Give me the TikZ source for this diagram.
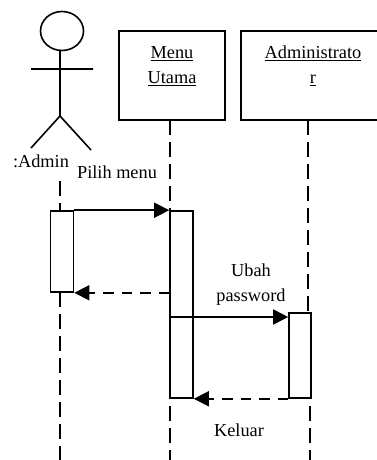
\documentclass[tikz,border=0pt]{standalone}
\usepackage{fontspec}
\setmainfont{Liberation Serif}
\usetikzlibrary{arrows.meta, positioning}
\tikzset{
  box/.style={draw, line width=1.6pt, minimum width=106pt, minimum height=89pt},
  actbox/.style={draw, line width=1.6pt, fill=white, minimum width=23pt},
  life/.style={line width=1.6pt, dash pattern=on 14.5pt off 7.5pt},
  msg/.style={-{Triangle[length=15pt,width=15pt]}, line width=1.7pt},
  ret/.style={-{Triangle[length=15pt,width=15pt]}, line width=1.7pt, dash pattern=on 10.5pt off 8pt},
  lbl/.style={font=\fontsize{18.3}{25}\selectfont, align=center, inner sep=0pt},
}
\begin{document}
\begin{tikzpicture}[x=1pt, y=-1pt, line width=1.6pt]
  \useasboundingbox (0,0) rectangle (376,460);
  % actor
  \draw (62,31) ellipse [x radius=21.5pt, y radius=19.5pt];
  \coordinate (neck) at (60,50);
  \coordinate (hip) at (60,116);
  \coordinate (armL) at (31,69);
  \coordinate (armR) at (93,69);
  \coordinate (legL) at (31,148);
  \coordinate (legR) at (91,150);
  \draw (neck) -- (hip) (armL) -- (armR) (legL) -- (hip) -- (legR);
  \node[lbl] (admin) at (41,161) {:Admin};
  % objects
  \node[box] (menu) at (172,75.5) {};
  \node[lbl] (menutxt) at (172,66) {\underline{Menu}\\\underline{Utama}};
  \node[box, minimum width=141pt] (adm) at (311.5,75.5) {};
  \node[lbl] (admtxt) at (313,66) {\underline{Administrato}\\\underline{r}};
  % activations
  \node[actbox, minimum height=81pt] (act1) at (62,251.5) {};
  \node[actbox, minimum height=187pt] (act2) at (181.5,304.5) {};
  \node[actbox, minimum width=22pt, minimum height=85pt] (act3) at (300,355.5) {};
  \coordinate (top1) at (60,181);
  \coordinate (bot1) at (60,292);
  \coordinate (end1) at (60,460);
  \coordinate (top2) at (170,120);
  \coordinate (bot2) at (170,406);
  \coordinate (end2) at (170,460);
  \coordinate (top3) at (308,120);
  \coordinate (bot3) at (310,406);
  \coordinate (end3) at (310,460);
  % lifelines
  \draw[life] (top1) -- (top1 |- act1.north);
  \draw[life] (bot1) -- (end1);
  \draw[life] (top2) -- (top2 |- act2.north);
  \draw[life] (bot2) -- (end2);
  \draw[life] (top3) -- (top3 |- act3.north);
  \draw[life] (bot3) -- (end3);
  % messages
  \coordinate (ubahL) at (170,317);
  \draw[msg] (act1.north east) -- (act2.north west);
  \draw[ret] (act2.west |- act1.south) -- (act1.south east);
  \draw[msg] (ubahL) -- (act3.west |- ubahL);
  \draw[ret] (act3.south west) -- (act2.south east);
  % labels
  \node[lbl] (pilih) at (117,172) {Pilih menu};
  \node[lbl] (ubah) at (251,285) {Ubah\\password};
  \node[lbl] (keluar) at (239,430) {Keluar};
\end{tikzpicture}
\end{document}
